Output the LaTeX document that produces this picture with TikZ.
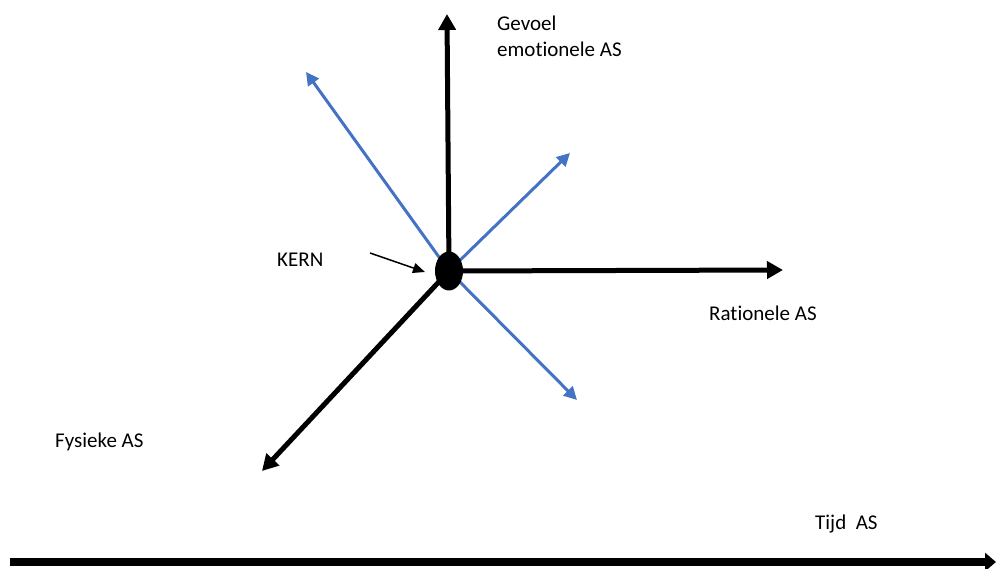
\documentclass[tikz,border=0pt]{standalone}
\usepackage{fontspec}
\setmainfont{Carlito}[Ligatures=NoCommon]
\usetikzlibrary{arrows.meta,shapes.geometric}
\definecolor{axblue}{HTML}{4472C4}
\tikzset{
  blackax/.style={line width=5pt,-{Triangle[length=16pt,width=17pt]}},
  blueax/.style={line width=3pt,axblue,-{Triangle[length=13pt,width=13pt]}},
  lbl/.style={anchor=base west,inner sep=0pt,font=\fontsize{21}{25}\selectfont},
}
\begin{document}
\begin{tikzpicture}[x=1pt,y=-1pt]
\useasboundingbox (0,0) rectangle (996,569);
\coordinate (c) at (449,271);
\coordinate (up) at (447,14);
\coordinate (right) at (783,270);
\coordinate (downleft) at (262,471);
\coordinate (bul) at (306,72);
\coordinate (bur) at (570,153);
\coordinate (bdr) at (577,400);
\draw[blueax] (c) -- (bul);
\draw[blueax] (c) -- (bur);
\draw[blueax] (c) -- (bdr);
\draw[blackax] (c) -- (up);
\draw[blackax] (c) -- (right);
\draw[blackax] (c) -- (downleft);
\node[ellipse,fill=black,minimum width=28pt,minimum height=39pt,inner sep=0pt] (kern) at (c) {};
\node[lbl] (gevoel) at (497,31) {Gevoel};
\node[lbl] (emo) at (497,57) {emotionele AS};
\node[lbl] (kernlbl) at (277,267) {KERN};
\node[lbl] (rat) at (709,321) {Rationele AS};
\node[lbl] (fys) at (55,447) {Fysieke AS};
\node[lbl] (tijd) at (815,529) {Tijd\ \ AS};
\coordinate (ks) at (370,253);
\coordinate (ke) at (425,272);
\draw[line width=1.5pt,-{Triangle[length=12pt,width=10pt]}] (ks) -- (ke);
\coordinate (ts) at (10,562);
\coordinate (te) at (996,562);
\draw[line width=8pt,-{Triangle[length=11pt,width=18pt]}] (ts) -- (te);
\end{tikzpicture}
\end{document}
